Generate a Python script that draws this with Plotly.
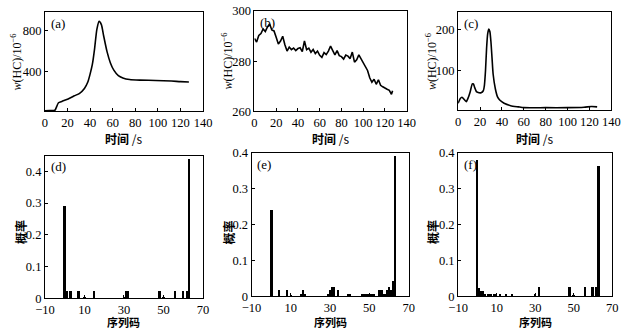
import plotly.graph_objects as go

W, H = 632, 335

# ---------- data ----------
t_a = [0, 4, 8, 9, 12, 15, 20.6, 26, 30.7, 35, 38, 40, 42, 44, 46, 48, 50, 52, 55, 58, 61, 65, 69, 75, 84, 98, 112, 120, 127.5]
v_a = [6, 8, 10, 13, 86, 100, 124, 155, 180, 228, 292, 371, 467, 625, 816, 895, 863, 752, 594, 482, 410, 356, 333, 317, 311, 308, 302, 296, 292]

t_b = list(range(0, 128, 2)) + [127]
v_b = [289.0, 287.6, 290.2, 291.0, 292.8, 291.8, 293.6, 294.8, 292.4, 292.0,
       289.5, 286.8, 288.0, 289.9, 286.5, 284.0, 285.6, 284.6, 285.2, 284.2,
       285.0, 285.3, 283.8, 288.0, 284.6, 285.2, 283.5, 284.6, 283.0, 284.0,
       282.3, 281.5, 283.4, 282.6, 284.0, 286.0, 284.2, 282.5, 284.2, 282.2,
       281.8, 280.8, 282.4, 282.0, 281.0, 283.6, 279.6, 280.5, 282.5, 281.0,
       279.5, 278.0, 276.3, 273.4, 271.6, 272.8, 270.8, 272.6, 270.4, 269.8,
       269.2, 268.8, 268.4, 266.8, 268.2]

t_c = [0, 2, 3.5, 6, 7.5, 9, 11, 13, 14, 15, 17, 19, 21, 23, 24, 25, 26, 27, 28, 29, 30, 31, 32, 34, 36, 38, 42, 48, 55, 60, 80, 100, 115, 122, 127]
v_c = [18, 30, 33, 26, 22, 30, 46, 66, 66, 58, 46, 44, 44, 49, 62, 98, 154, 190, 202, 196, 170, 130, 90, 54, 34, 26, 18, 12, 9, 7, 7, 7, 8, 10, 9]

codes_d = [0, 1, 3, 7, 10, 15, 30, 31, 32, 48, 50, 56, 60, 62, 63]
prob_d = [0.292, 0.026, 0.026, 0.026, 0.004, 0.026, 0.004, 0.026, 0.026, 0.026, 0.004, 0.026, 0.026, 0.026, 0.44]

codes_e = [0, 4, 8, 10, 15, 16, 17, 29, 30, 31, 32, 34, 39, 40, 46, 47, 48, 49, 50, 51, 52, 55, 56, 57, 58, 59, 60, 61, 62, 63]
prob_e = [0.24, 0.018, 0.018, 0.004, 0.009, 0.018, 0.009, 0.009, 0.018, 0.027, 0.027, 0.018, 0.009, 0.009,
          0.009, 0.009, 0.009, 0.009, 0.009, 0.009, 0.009, 0.018, 0.018, 0.009, 0.009, 0.018, 0.027, 0.018, 0.045, 0.392]

codes_f = [0, 1, 2, 3, 4, 6, 7, 9, 12, 15, 18, 30, 32, 48, 50, 56, 60, 62, 63]
prob_f = [0.381, 0.025, 0.016, 0.015, 0.009, 0.009, 0.009, 0.009, 0.009, 0.009, 0.009, 0.009, 0.027, 0.027, 0.004, 0.027, 0.027, 0.027, 0.363]

# ---------- layout helpers ----------
panels = {
    "a": (36, 199, 5, 109),
    "b": (252, 409, 4, 109),
    "c": (462, 620, 5, 108),
    "d": (36, 199, 155, 304),
    "e": (249, 411, 152, 302),
    "f": (462, 621, 152, 302),
}
ytitle_dx = {"a": -29, "b": -28, "c": -28, "d": -26, "e": -24, "f": -27}

SERIF = "Liberation Serif"
CJK = "Noto Sans CJK SC"

fig = go.Figure()
layout = dict(width=W, height=H, margin=dict(l=0, r=0, t=0, b=0),
              paper_bgcolor="white", plot_bgcolor="white", showlegend=False,
              font=dict(family=SERIF, size=12, color="black"))
annotations = []

def axcfg(domain, rng, tickvals, ticktext=None):
    d = dict(domain=domain, range=rng, showline=True, mirror=True, linecolor="black", linewidth=1,
             showgrid=False, zeroline=False, ticks="inside", ticklen=3, tickcolor="black",
             tickvals=tickvals, tickfont=dict(family=SERIF, size=12.5, color="black"), fixedrange=True)
    if ticktext is not None:
        d["ticktext"] = ticktext
    return d

names = ["a", "b", "c", "d", "e", "f"]
xr = {"a": [0, 140], "b": [0, 140], "c": [0, 140], "d": [-10, 70], "e": [-10, 70], "f": [-10, 70]}
yr = {"a": [0, 990], "b": [260, 300], "c": [0, 245], "d": [0, 0.45], "e": [0, 0.4], "f": [0, 0.4]}
ytv = {"a": [400, 800], "b": [260, 280, 300], "c": [100, 200],
       "d": [0, 0.1, 0.2, 0.3, 0.4], "e": [0, 0.1, 0.2, 0.3, 0.4], "f": [0, 0.1, 0.2, 0.3, 0.4]}
ytt = {"d": ["0", "0.1", "0.2", "0.3", "0.4"], "e": ["0", "0.1", "0.2", "0.3", "0.4"], "f": ["0", "0.1", "0.2", "0.3", "0.4"]}
xtv_t = [0, 20, 40, 60, 80, 100, 120, 140]
xtv_c = [-10, 10, 30, 50, 70]
xtt_c = ["\u221210", "10", "30", "50", "70"]

for i, n in enumerate(names):
    x0, x1, y0, y1 = panels[n]
    xd = [x0 / W, x1 / W]
    yd = [1 - y1 / H, 1 - y0 / H]
    sfx = "" if i == 0 else str(i + 1)
    if n in "abc":
        xa = axcfg(xd, xr[n], xtv_t)
    else:
        xa = axcfg(xd, xr[n], xtv_c, xtt_c)
    ya = axcfg(yd, yr[n], ytv[n], ytt.get(n))
    xa["anchor"] = "y" + sfx
    ya["anchor"] = "x" + sfx
    layout["xaxis" + sfx] = xa
    layout["yaxis" + sfx] = ya
    annotations.append(dict(xref="paper", yref="paper", x=(x0 + 4) / W, y=1 - (y0 + 2) / H,
                            xanchor="left", yanchor="top", text="(" + n + ")", showarrow=False,
                            font=dict(family=SERIF, size=13, color="black")))
    xc = (x0 + x1) / 2
    if n in "abc":
        annotations.append(dict(xref="paper", yref="paper", x=xc / W, y=1 - 137 / H,
                                text="<b>时间</b> /s", showarrow=False, xanchor="center", yanchor="middle",
                                font=dict(family=CJK, size=12, color="black")))
        annotations.append(dict(xref="paper", yref="paper", x=(x0 + ytitle_dx[n]) / W, y=1 - ((y0 + y1) / 2) / H,
                                text="<i>w</i>(HC)/10<sup>\u22126</sup>", showarrow=False, textangle=-90,
                                xanchor="center", yanchor="middle",
                                font=dict(family=SERIF, size=12, color="black")))
    else:
        annotations.append(dict(xref="paper", yref="paper", x=xc / W, y=1 - 329 / H,
                                text="<b>序列码</b>", showarrow=False, xanchor="center", yanchor="middle",
                                font=dict(family=CJK, size=11, color="black")))
        annotations.append(dict(xref="paper", yref="paper", x=(x0 + ytitle_dx[n]) / W, y=1 - 235 / H,
                                text="<b>概率</b>", showarrow=False, textangle=-90,
                                xanchor="center", yanchor="middle",
                                font=dict(family=CJK, size=12, color="black")))

line_style = dict(color="black", width=1.6)
fig.add_trace(go.Scatter(x=t_a, y=v_a, mode="lines", line=dict(shape="spline", smoothing=0.6, **line_style), xaxis="x", yaxis="y"))
fig.add_trace(go.Scatter(x=t_b, y=v_b, mode="lines", line=line_style, xaxis="x2", yaxis="y2"))
fig.add_trace(go.Scatter(x=t_c, y=v_c, mode="lines", line=dict(shape="spline", smoothing=0.6, **line_style), xaxis="x3", yaxis="y3"))
for cx, cy, k in [(codes_d, prob_d, "4"), (codes_e, prob_e, "5"), (codes_f, prob_f, "6")]:
    fig.add_trace(go.Bar(x=cx, y=cy, width=1.0, marker=dict(color="black", line=dict(width=0)),
                         xaxis="x" + k, yaxis="y" + k))

layout["annotations"] = annotations
layout["bargap"] = 0
fig.update_layout(**layout)
fig.write_html("out.html")
